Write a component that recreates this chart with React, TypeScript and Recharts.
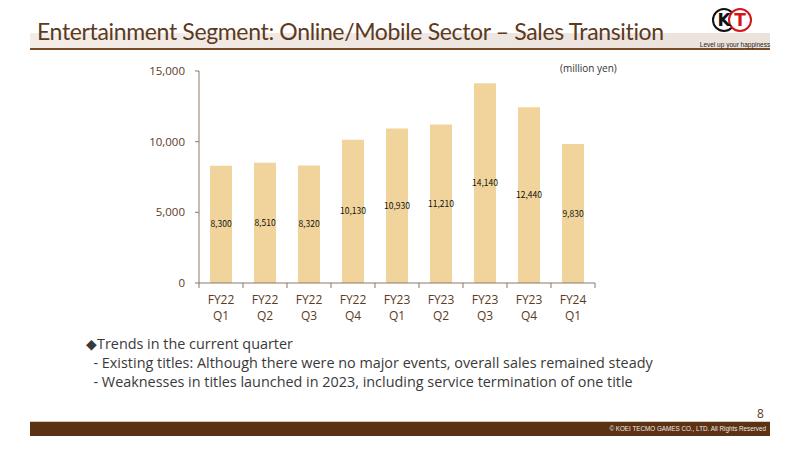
import { BarChart, Bar, XAxis, YAxis, LabelList } from "recharts";

const quarters = ["FY22\nQ1", "FY22\nQ2", "FY22\nQ3", "FY22\nQ4", "FY23\nQ1", "FY23\nQ2", "FY23\nQ3", "FY23\nQ4", "FY24\nQ1"];
const sales = [8300, 8510, 8320, 10130, 10930, 11210, 14140, 12440, 9830];
const yTicks = [0, 5000, 10000, 15000];

const notes = [
  "\u25c6Trends in the current quarter",
  "  - Existing titles: Although there were no major events, overall sales remained steady",
  "  - Weaknesses in titles launched in 2023, including service termination of one title",
];

const data = quarters.map((q, i) => ({ quarter: q, sales: sales[i] }));

const BROWN = "#5c3a1e";
const AXIS = "#8a7866";
const BAR = "#f0d49b";
const FONT = "'Open Sans', 'Noto Sans', sans-serif";

// category tick: two-line label plus a divider tick on the left edge of each band
function QuarterTick(props: any) {
  const { x, y, payload, index } = props;
  const half = payload?.offset || 22;
  const lines = String(payload.value).split("\n");
  const y0 = y - 8;
  return (
    <g>
      <line x1={x - half} x2={x - half} y1={y0} y2={y0 + 5} stroke={AXIS} />
      {index === quarters.length - 1 && (
        <line x1={x + half} x2={x + half} y1={y0} y2={y0 + 5} stroke={AXIS} />
      )}
      {lines.map((t, i) => (
        <text
          key={i}
          x={x}
          y={y0 + 21 + i * 16}
          textAnchor="middle"
          fill={BROWN}
          fontSize={12}
          fontFamily={FONT}
        >
          {t}
        </text>
      ))}
    </g>
  );
}

function Logo() {
  return (
    <svg width={80} height={50} style={{ position: "absolute", left: 700, top: 4 }}>
      <circle cx={24} cy={16} r={11} fill="#fff" stroke="#111" strokeWidth={2} />
      <circle cx={40} cy={16} r={11} fill="#fff" stroke="#d7141a" strokeWidth={2} />
      <text x={24} y={22} textAnchor="middle" fontSize={17} fontWeight={900} fontFamily="'DejaVu Sans'" fill="#111">K</text>
      <text x={40} y={22} textAnchor="middle" fontSize={17} fontWeight={900} fontFamily="'DejaVu Sans'" fill="#d7141a">T</text>
      <text x={35} y={43} textAnchor="middle" fontSize={6.5} fontFamily="'Liberation Sans'" fill="#222">Level up your happiness</text>
    </svg>
  );
}

export default function App() {
  return (
    <div
      style={{
        position: "fixed",
        left: 0,
        top: 0,
        width: 800,
        height: 449,
        background: "#fff",
        overflow: "hidden",
        fontFamily: FONT,
      }}
    >
      {/* title band */}
      <div
        style={{
          position: "absolute",
          left: 30,
          top: 33,
          width: 740,
          height: 15,
          background: "linear-gradient(90deg, #f3ece7, #ebe2dc)",
        }}
      />
      <div style={{ position: "absolute", left: 30, top: 48, width: 740, height: 2, background: "#7a4a22" }} />
      <div
        style={{
          position: "absolute",
          left: 37,
          top: 17,
          fontSize: 23,
          letterSpacing: -0.35,
          fontFamily: "Lato, sans-serif",
          color: BROWN,
          whiteSpace: "nowrap",
        }}
      >
        Entertainment Segment: Online/Mobile Sector – Sales Transition
      </div>
      <Logo />

      <div style={{ position: "absolute", left: 560, top: 61, fontSize: 10, color: "#333" }}>
        (million yen)
      </div>

      <div style={{ position: "absolute", left: 0, top: 0 }}>
        <BarChart
          width={800}
          height={449}
          data={data}
          margin={{ top: 71, right: 205, bottom: 126, left: 139 }}
          barCategoryGap="25%"
        >
          <XAxis
            dataKey="quarter"
            interval={0}
            height={40}
            stroke={AXIS}
            tickLine={false}
            tick={<QuarterTick />}
          />
          <YAxis
            width={60}
            domain={[0, 15000]}
            ticks={yTicks}
            stroke={AXIS}
            tickSize={4}
            tickMargin={10}
            tickFormatter={(v: number) => v.toLocaleString("en-US")}
            tick={{ fill: BROWN, fontSize: 11.5, fontFamily: FONT }}
          />
          <Bar dataKey="sales" fill={BAR} isAnimationActive={false}>
            <LabelList
              dataKey="sales"
              position="center"
              formatter={(v: any) => Number(v).toLocaleString("en-US")}
              style={{ fill: "#111", fontSize: 8.5, fontFamily: "'Noto Sans CJK JP', sans-serif" }}
            />
          </Bar>
        </BarChart>
      </div>

      <div style={{ position: "absolute", left: 86, top: 334, fontSize: 14.4, color: "#3a3a3a", lineHeight: "19px" }}>
        {notes.map((n, i) => (
          <div key={i} style={{ whiteSpace: "pre" }}>
            {n}
          </div>
        ))}
      </div>

      <div style={{ position: "absolute", left: 757, top: 405, fontSize: 12, color: BROWN }}>8</div>
      <div style={{ position: "absolute", left: 30, top: 421, width: 740, height: 1, background: "#d9c9bb" }} />
      <div
        style={{
          position: "absolute",
          left: 30,
          top: 422,
          width: 740,
          height: 14,
          background: "#5b3213",
          color: "#f2ebe4",
          fontSize: 6.3,
          lineHeight: "14px",
          textAlign: "right",
          paddingRight: 4,
          boxSizing: "border-box",
          fontFamily: "'Liberation Sans', sans-serif",
        }}
      >
        © KOEI TECMO GAMES CO., LTD. All Rights Reserved
      </div>
    </div>
  );
}
